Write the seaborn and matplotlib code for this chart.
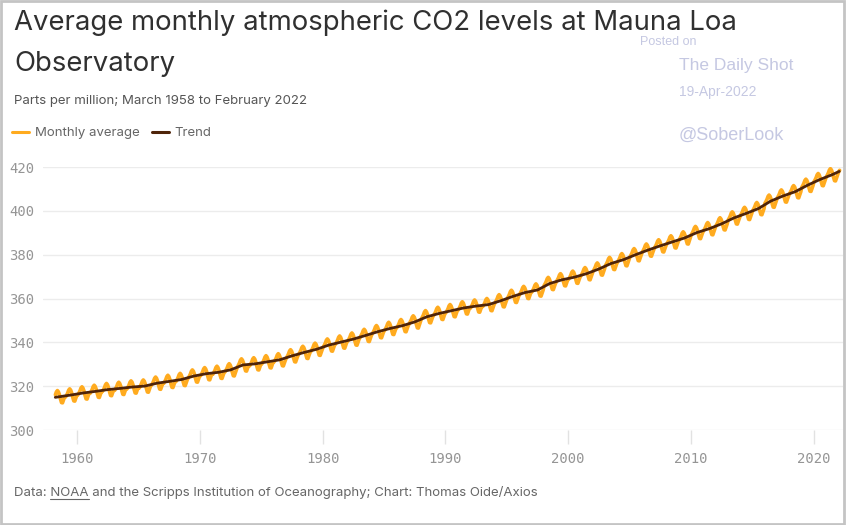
import numpy as np
import pandas as pd
import matplotlib.pyplot as plt
import seaborn as sns

# Mauna Loa CO2 (ppm)
years = list(range(1958, 2023))
annual_ppm = [315.2, 315.98, 316.91, 317.64, 318.45, 318.99, 319.62, 320.04, 321.37, 322.18,
              323.05, 324.62, 325.68, 326.32, 327.46, 329.68, 330.19, 331.12, 332.03, 333.84,
              335.41, 336.84, 338.76, 340.12, 341.48, 343.15, 344.87, 346.35, 347.61, 349.31,
              351.69, 353.20, 354.45, 355.70, 356.54, 357.21, 358.96, 360.97, 362.74, 363.88,
              366.84, 368.54, 369.71, 371.32, 373.45, 375.98, 377.70, 379.98, 382.09, 384.02,
              385.83, 387.64, 390.10, 391.85, 394.06, 396.74, 398.81, 401.01, 404.41, 406.76,
              408.72, 411.66, 414.24, 416.45, 418.6]
# month minus its year's mean (Jan..Dec)
month_offset = [-0.9, -0.1, 0.9, 2.2, 2.8, 2.2, 0.9, -1.1, -2.7, -2.8, -1.4, -0.1]
first_month = (1958, 3)
last_month = (2022, 2)
trend_start = (1958.2, 314.9)
trend_end = (2022.1, 418.0)

# monthly frame
rows = []
for y, a in zip(years, annual_ppm):
    for m in range(12):
        if (y, m + 1) < first_month or (y, m + 1) > last_month:
            continue
        rows.append((y + (m + 0.5) / 12, a + month_offset[m]))
monthly = pd.DataFrame(rows, columns=['year', 'ppm'])

tr = [trend_start] + [(y + 0.5, a) for y, a in zip(years, annual_ppm) if 1958 < y < 2022] + [trend_end]
trend = pd.DataFrame(tr, columns=['year', 'ppm'])

sns.set_theme(style='white')
plt.rcParams['font.family'] = ['Inter', 'DejaVu Sans']

fig = plt.figure(figsize=(8.46, 5.25), dpi=100)
ax = fig.add_axes([43 / 846, (525 - 430) / 525, 800 / 846, 263 / 525])

sns.lineplot(data=monthly, x='year', y='ppm', color='#ffab1f', lw=2.6, ax=ax,
             label='Monthly average', estimator=None)
sns.lineplot(data=trend, x='year', y='ppm', color='#4f2409', lw=2.0, ax=ax,
             label='Trend', estimator=None)

ax.set_xlim(1957.2, 2022.4)
ax.set_ylim(300, 420)
ax.set_yticks(range(300, 421, 20))
ax.set_xticks(range(1960, 2021, 10))
ax.set_xlabel('')
ax.set_ylabel('')
for s in ax.spines.values():
    s.set_visible(False)
ax.yaxis.grid(True, color='#ececec', lw=1)
ax.xaxis.grid(False)
ax.tick_params(axis='y', length=0, pad=6, labelsize=10, labelcolor='#959595')
ax.tick_params(axis='x', length=10, width=1, color='#e2e2e2', pad=6,
               labelsize=10, labelcolor='#959595', bottom=True)
for t in ax.get_xticklabels() + ax.get_yticklabels():
    t.set_family('DejaVu Sans Mono')

ax.get_legend().remove()
leg = fig.legend(loc='upper left', bbox_to_anchor=(12 / 846, 1 - 127 / 525), ncol=2,
                 frameon=False, fontsize=9.5, labelcolor='#666666', handlelength=1.3,
                 handletextpad=0.45, columnspacing=0.9, borderaxespad=0, borderpad=0)
for h in leg.get_lines():
    h.set_linewidth(2.2)

fig.text(14 / 846, 1 - 30 / 525, 'Average monthly atmospheric CO2 levels at Mauna Loa',
         fontsize=19.8, color='#303030', va='baseline')
fig.text(14 / 846, 1 - 71 / 525, 'Observatory',
         fontsize=19.8, color='#303030', va='baseline')
fig.text(14 / 846, 1 - 104 / 525, 'Parts per million; March 1958 to February 2022',
         fontsize=9.5, color='#555555', va='baseline')

wm = '#c5c8e2'
fig.text(640 / 846, 1 - 45 / 525, 'Posted on', fontsize=9, color=wm, family='Liberation Sans', va='baseline')
fig.text(679 / 846, 1 - 70 / 525, 'The Daily Shot', fontsize=12.5, color=wm, family='Liberation Sans', va='baseline')
fig.text(679 / 846, 1 - 96 / 525, '19-Apr-2022', fontsize=10, color=wm, family='Liberation Sans', va='baseline')
fig.text(679 / 846, 1 - 140 / 525, '@SoberLook', fontsize=13, color=wm, family='Liberation Sans', va='baseline')

# footer with underlined NOAA
fy = 1 - 496 / 525
foot = fig.text(14 / 846, fy, 'Data: NOAA and the Scripps Institution of Oceanography; Chart: Thomas Oide/Axios',
                fontsize=9.5, color='#666666', va='baseline')
fig.canvas.draw()
r = fig.canvas.get_renderer()
t1 = fig.text(14 / 846, fy, 'Data: ', fontsize=9.5, va='baseline')
t2 = fig.text(14 / 846, fy, 'Data: NOAA', fontsize=9.5, va='baseline')
x0 = t1.get_window_extent(r).x1 / 846
x1 = t2.get_window_extent(r).x1 / 846
t1.remove()
t2.remove()
fig.add_artist(plt.Line2D([x0, x1], [fy - 3 / 525, fy - 3 / 525], color='#666666', lw=0.8))

# outer border
fig.add_artist(plt.Rectangle((0.001, 0.002), 0.997, 0.996, transform=fig.transFigure,
                             fill=False, edgecolor='#c4c4c4', lw=2))

fig.savefig('out.png', dpi=100)
